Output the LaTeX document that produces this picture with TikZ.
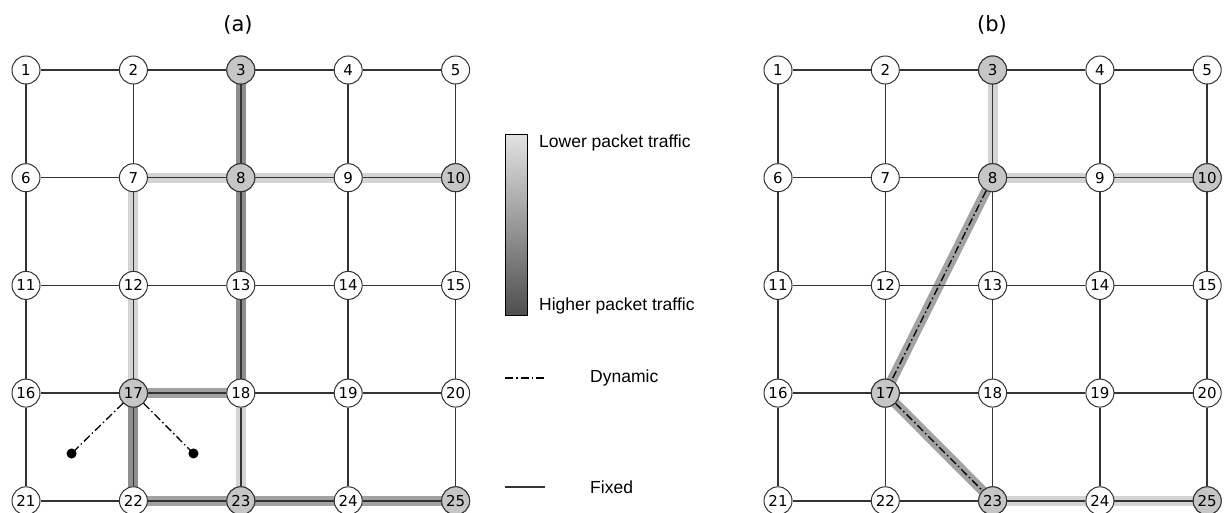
\documentclass[tikz,border=0pt]{standalone}
\usepackage{fontspec}
\setmainfont{Liberation Sans}
\newfontfamily\numfont{DejaVu Sans}
\usetikzlibrary{arrows.meta}
\pgfdeclarelayer{bands}
\pgfdeclarelayer{links}
\pgfsetlayers{bands,links,main}
\definecolor{edgecol}{HTML}{333333}
\definecolor{nodegray}{HTML}{C6C6C6}
\definecolor{heavy}{HTML}{8E8E8E}
\definecolor{medium}{HTML}{A2A2A2}
\definecolor{light}{HTML}{D4D4D4}
\definecolor{bartop}{HTML}{E2E2E2}
\definecolor{barbottom}{HTML}{4E4E4E}
\begin{document}
\begin{tikzpicture}[x=1pt,y=-1pt,
  netnode/.style={circle,draw=edgecol,line width=1pt,minimum size=28pt,
    inner sep=0pt,fill=white,font=\numfont\fontsize{15}{15}\selectfont},
  hot/.style={fill=nodegray},
  link/.style={draw=edgecol,line width=1.6pt},
  band/.style={line width=10pt},
  dynamic/.style={draw=black,line width=1.3pt,dash pattern=on 8pt off 3pt on 1.5pt off 3pt},
  title/.style={font=\numfont\fontsize{21}{21}\selectfont},
  legend/.style={anchor=west,inner sep=0pt,font=\fontsize{17.5}{17.5}\selectfont}]
\useasboundingbox (0,0) rectangle (1230,513);
\clip (0,0) rectangle (1230,513);

% panel titles
\node[title] (ta) at (238,25) {(a)};
\node[title] (tb) at (992,25) {(b)};

% 5x5 networks: nodes of panel (a) and panel (b)
\foreach \r in {0,...,4}{
  \foreach \c in {0,...,4}{
    \pgfmathtruncatemacro\n{5*\r+\c+1}
    \node[netnode] (a\n) at ({26+107.4*\c},{70+107.7*\r}) {\n};
    \node[netnode] (b\n) at ({778+107.3*\c},{70+107.7*\r}) {\n};
  }
}
% busy nodes
\foreach \n in {3,8,10,17,23,25}{
  \node[netnode,hot] at (a\n) {\n};
  \node[netnode,hot] at (b\n) {\n};
}

% fixed grid links
\begin{pgfonlayer}{links}
\foreach \p in {a,b}{
  \foreach \r in {0,...,4}{
    \foreach \c in {1,...,4}{
      \pgfmathtruncatemacro\n{5*\r+\c}
      \pgfmathtruncatemacro\m{\n+1}
      \draw[link] (\p\n) -- (\p\m);
    }
  }
  \foreach \n in {1,...,20}{
    \pgfmathtruncatemacro\m{\n+5}
    \draw[link] (\p\n) -- (\p\m);
  }
}
\end{pgfonlayer}

% traffic bands, panel (a)
\begin{pgfonlayer}{bands}
\foreach \u/\v in {3/8,8/13,13/18,17/22}
  \draw[band,heavy] (a\u.center) -- (a\v.center);
\foreach \u/\v in {17/18,22/23,23/24,24/25}
  \draw[band,medium] (a\u.center) -- (a\v.center);
\foreach \u/\v in {7/8,8/9,9/10,7/12,12/17,18/23}
  \draw[band,light] (a\u.center) -- (a\v.center);
% traffic bands, panel (b)
\foreach \u/\v in {3/8,8/9,9/10,23/24,24/25}
  \draw[band,light] (b\u.center) -- (b\v.center);
\foreach \u/\v in {8/17,17/23}
  \draw[band,medium] (b\u.center) -- (b\v.center);
\end{pgfonlayer}

% dynamic links, panel (b)
\begin{pgfonlayer}{links}
\draw[dynamic] (b8) -- (b17);
\draw[dynamic] (b17) -- (b23);
\end{pgfonlayer}

% candidate dynamic links from node 17, panel (a)
\coordinate (da) at (68,457);
\coordinate (db) at (197,457);
\draw[dynamic,-{Circle[length=10pt,width=10pt]}] (a17) -- (da);
\draw[dynamic,-{Circle[length=10pt,width=10pt]}] (a17) -- (db);

% legend: traffic scale
\shade[top color=bartop,bottom color=barbottom] (505,135) rectangle (527,315);
\node[draw=black,line width=1pt,inner sep=0pt,minimum width=22pt,minimum height=180pt] (bar) at (516,225) {};
\node[legend] (lo) at (539,143) {Lower packet traffic};
\node[legend] (hi) at (539,306) {Higher packet traffic};

% legend: link kinds
\coordinate (d1) at (505,378);
\coordinate (d2) at (545,378);
\draw[dynamic] (d1) -- (d2);
\node[legend] (dy) at (590,378) {Dynamic};
\coordinate (f1) at (505,487);
\coordinate (f2) at (545,487);
\draw[link] (f1) -- (f2);
\node[legend] (fx) at (590,487) {Fixed};
\end{tikzpicture}
\end{document}
